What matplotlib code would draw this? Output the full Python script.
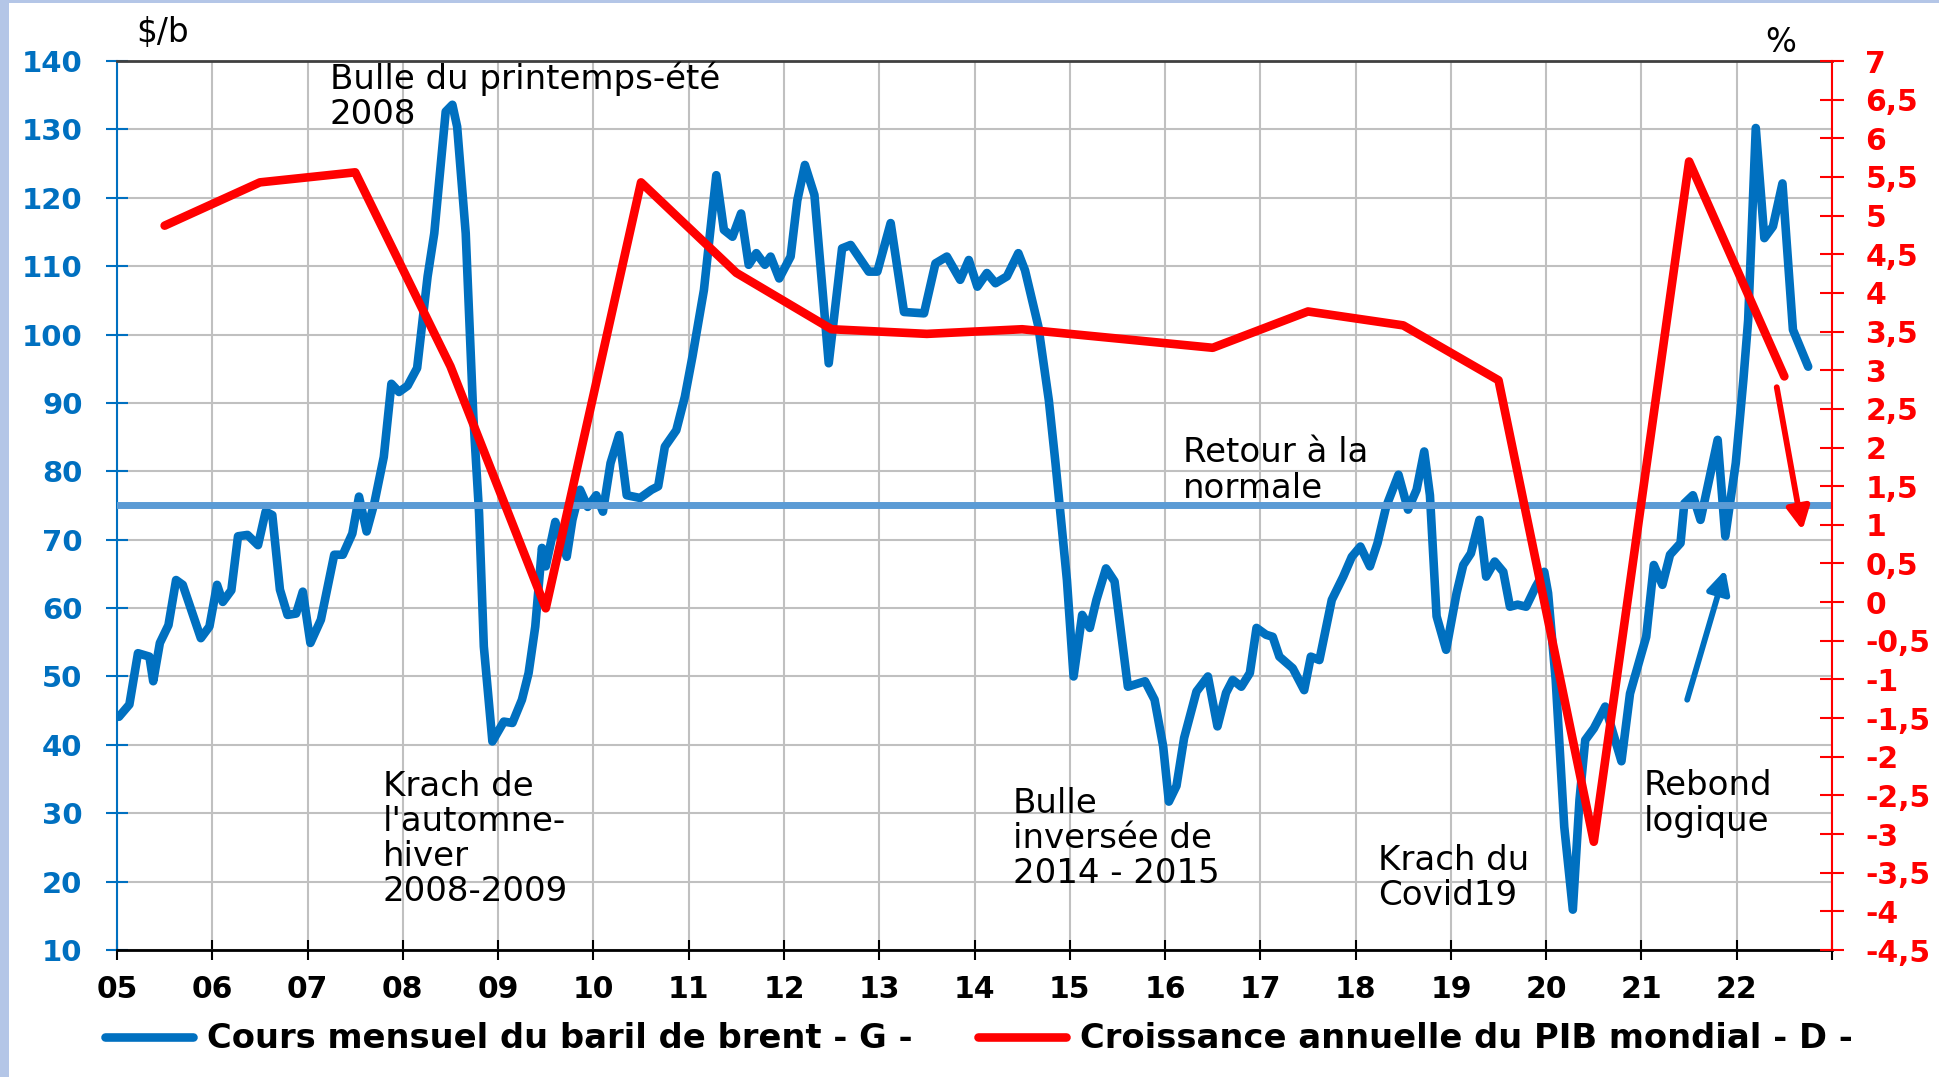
import numpy as np
import matplotlib
matplotlib.use('Agg')
import matplotlib.pyplot as plt
from matplotlib.lines import Line2D
from matplotlib.patches import Rectangle

plt.rcParams['font.family'] = ['DejaVu Sans']

# ======================================================================
# Données
# ======================================================================
# cours mensuel du baril de brent ($/b), axe gauche
brent_t = [
    2005.02, 2005.13, 2005.22, 2005.34, 2005.38, 2005.45, 2005.54, 2005.62, 2005.69, 2005.88, 2005.97,
    2006.05, 2006.11, 2006.20, 2006.27, 2006.37, 2006.48, 2006.56, 2006.63, 2006.71, 2006.79, 2006.88, 2006.95,
    2007.03, 2007.14, 2007.28, 2007.37, 2007.47, 2007.54, 2007.62, 2007.70, 2007.80, 2007.88, 2007.96,
    2008.05, 2008.15, 2008.26, 2008.33, 2008.45, 2008.52, 2008.57, 2008.66, 2008.74, 2008.80, 2008.85, 2008.94,
    2009.06, 2009.15, 2009.25, 2009.32, 2009.39, 2009.46, 2009.50, 2009.60, 2009.72, 2009.78, 2009.86, 2009.94,
    2010.03, 2010.10, 2010.18, 2010.27, 2010.35, 2010.49, 2010.61, 2010.68, 2010.75, 2010.87, 2010.96,
    2011.04, 2011.16, 2011.29, 2011.37, 2011.46, 2011.55, 2011.63, 2011.71, 2011.80, 2011.86, 2011.95,
    2012.07, 2012.14, 2012.22, 2012.32, 2012.47, 2012.61, 2012.70, 2012.89, 2012.98,
    2013.12, 2013.26, 2013.47, 2013.59, 2013.71, 2013.85, 2013.94,
    2014.03, 2014.13, 2014.22, 2014.34, 2014.46, 2014.53, 2014.67, 2014.78, 2014.85, 2014.97,
    2015.04, 2015.13, 2015.21, 2015.28, 2015.38, 2015.47, 2015.61, 2015.79, 2015.89, 2015.98,
    2016.04, 2016.12, 2016.20, 2016.33, 2016.45, 2016.55, 2016.64, 2016.71, 2016.80, 2016.89, 2016.96,
    2017.06, 2017.13, 2017.20, 2017.34, 2017.46, 2017.53, 2017.62, 2017.75, 2017.87, 2017.96,
    2018.05, 2018.15, 2018.23, 2018.32, 2018.45, 2018.55, 2018.64, 2018.72, 2018.78, 2018.85, 2018.95,
    2019.06, 2019.13, 2019.21, 2019.30, 2019.37, 2019.46, 2019.55, 2019.62, 2019.70, 2019.79, 2019.89, 2019.98,
    2020.02, 2020.10, 2020.19, 2020.28, 2020.35, 2020.41, 2020.50, 2020.62, 2020.79, 2020.88,
    2021.05, 2021.13, 2021.22, 2021.30, 2021.41, 2021.45, 2021.54, 2021.62, 2021.80, 2021.88, 2021.99,
    2022.07, 2022.12, 2022.20, 2022.29, 2022.38, 2022.48, 2022.59, 2022.75,
]
brent_v = [
    44.1, 45.9, 53.4, 52.9, 49.3, 54.9, 57.5, 64.1, 63.4, 55.6, 57.3,
    63.4, 60.9, 62.6, 70.5, 70.7, 69.2, 74.1, 73.6, 62.7, 59.0, 59.2, 62.4,
    54.9, 58.3, 67.8, 67.8, 70.9, 76.3, 71.2, 75.3, 82.1, 92.8, 91.6,
    92.5, 95.1, 108.5, 114.8, 132.6, 133.6, 130.4, 114.8, 88.0, 73.9, 54.4, 40.5,
    43.4, 43.2, 46.6, 50.5, 57.3, 68.8, 66.1, 72.6, 67.5, 72.9, 77.3, 74.8,
    76.5, 74.1, 81.2, 85.3, 76.5, 76.1, 77.3, 77.8, 83.6, 86.0, 90.9,
    96.8, 106.5, 123.3, 115.3, 114.3, 117.7, 110.2, 111.9, 110.2, 111.4, 108.2,
    111.4, 119.6, 124.8, 120.4, 95.8, 112.6, 113.1, 109.2, 109.2,
    116.3, 103.3, 103.1, 110.4, 111.4, 108.0, 110.9,
    107.0, 109.0, 107.5, 108.5, 111.9, 109.4, 101.2, 90.4, 81.2, 64.1,
    50.0, 59.0, 57.1, 61.2, 65.8, 63.9, 48.5, 49.3, 46.6, 39.8,
    31.7, 34.0, 41.0, 47.8, 50.0, 42.7, 47.6, 49.5, 48.5, 50.5, 57.1,
    56.1, 55.8, 52.9, 51.2, 48.0, 52.9, 52.4, 61.2, 64.6, 67.5,
    69.0, 66.1, 69.5, 74.8, 79.5, 74.4, 77.3, 82.9, 76.5, 58.8, 53.9,
    62.2, 66.3, 68.0, 72.9, 64.6, 66.8, 65.3, 60.2, 60.5, 60.2, 63.1, 65.3,
    62.2, 49.5, 28.0, 15.9, 32.0, 40.7, 42.4, 45.6, 37.6, 47.5,
    55.8, 66.3, 63.4, 67.8, 69.5, 75.3, 76.5, 72.9, 84.6, 70.5, 81.2,
    93.4, 102.1, 130.2, 114.1, 115.8, 122.1, 100.7, 95.3,
]

# croissance annuelle du PIB mondial (%), axe droit, point en milieu d'année
annees = [2005, 2006, 2007, 2008, 2009, 2010, 2011, 2012, 2013,
          2014, 2015, 2016, 2017, 2018, 2019, 2020, 2021, 2022]
pib_croissance = [4.87, 5.43, 5.56, 3.05, -0.08, 5.43, 4.26, 3.53, 3.47,
                  3.53, 3.41, 3.29, 3.76, 3.58, 2.87, -3.10, 5.70, 2.92]

niveau_normal = 75  # "retour à la normale"

fleche_brent = [(2021.48, 46.6), (2021.88, 65.6)]
fleche_pib = [(2022.42, 2.78), (2022.69, 0.93)]

annotations = [
    (2007.235, 139.9, "Bulle du printemps-été\n2008"),
    (2007.79, 36.3, "Krach de\nl'automne-\nhiver\n2008-2009"),
    (2014.40, 33.9, "Bulle\ninversée de\n2014 - 2015"),
    (2018.24, 25.5, "Krach du\nCovid19"),
    (2021.02, 36.4, "Rebond\nlogique"),
    (2016.19, 85.1, "Retour à la\nnormale"),
]

# ======================================================================
# Figure
# ======================================================================
BLEU = '#0070c0'
ROUGE = '#ff0000'
BLEU_CLAIR = '#5b9bd5'
GRILLE = '#c0c0c0'

W, H = 1939, 1077
fig = plt.figure(figsize=(W / 100, H / 100), dpi=100)
fig.add_artist(Rectangle((0, 0), 9 / W, 1, transform=fig.transFigure,
                         color='#b4c6e7', lw=0, zorder=0))
fig.add_artist(Rectangle((0, 1 - 3 / H), 1, 3 / H, transform=fig.transFigure,
                         color='#b4c6e7', lw=0, zorder=0))

ax = fig.add_axes([117 / W, 1 - 950 / H, (1832 - 117) / W, (950 - 61) / H])
ax2 = ax.twinx()

ax.set_xlim(2005, 2023)
ax.set_ylim(10, 140)
ax2.set_ylim(-4.5, 7)

ax.grid(True, color=GRILLE, lw=1.5)
ax.set_axisbelow(True)

ax.plot(brent_t, brent_v, color=BLEU, lw=6.2,
        solid_joinstyle='round', solid_capstyle='round', zorder=2)
ax.axhline(niveau_normal, color=BLEU_CLAIR, lw=5, zorder=3)
ax2.plot(np.array(annees) + 0.5, pib_croissance, color=ROUGE, lw=6.2,
         solid_joinstyle='round', solid_capstyle='round', zorder=2)

fleche_kw = dict(arrowstyle='-|>,head_length=0.75,head_width=0.38',
                 lw=4.2, shrinkA=0, shrinkB=0, mutation_scale=18)
ax.annotate('', xy=fleche_brent[1], xytext=fleche_brent[0],
            arrowprops=dict(color=BLEU, **fleche_kw))
ax2.annotate('', xy=fleche_pib[1], xytext=fleche_pib[0],
             arrowprops=dict(color=ROUGE, **fleche_kw))

# axes et graduations
ax.set_xticks(annees + [2023])
ax.set_xticklabels([f'{a % 100:02d}' for a in annees] + [''], fontweight='bold')
ax.set_yticks(range(10, 141, 10))
ax.set_yticklabels([str(v) for v in range(10, 141, 10)], fontweight='bold')
ax.tick_params(axis='x', direction='inout', length=15, width=1.5,
               colors='black', pad=10.5, labelsize=21.5)
ax.tick_params(axis='y', direction='inout', length=16.5, width=1.5,
               colors=BLEU, pad=16.5, labelsize=21)

ticks_d = np.arange(-4.5, 7.01, 0.5)
ax2.set_yticks(ticks_d)
ax2.set_yticklabels([('%g' % t).replace('.', ',') for t in ticks_d], fontweight='bold')
ax2.tick_params(axis='y', direction='inout', length=17, width=1.5,
                colors=ROUGE, pad=15.5, labelsize=21.5)

ax.spines['left'].set_color(BLEU)
ax.spines['left'].set_linewidth(1.5)
ax.spines['top'].set_color('#404040')
ax.spines['top'].set_linewidth(2)
ax.spines['bottom'].set_color('black')
ax.spines['bottom'].set_linewidth(2)
ax.spines['right'].set_visible(False)
for s in ['left', 'top', 'bottom']:
    ax2.spines[s].set_visible(False)
ax2.spines['right'].set_color(ROUGE)
ax2.spines['right'].set_linewidth(1.5)

# unités
ax.text(2005.2, 142.8, '$/b', fontsize=23.5, va='baseline', ha='left', clip_on=False)
ax.text(2022.30, 141.3, '%', fontsize=23.5, va='baseline', ha='left', clip_on=False)

for x, y, s in annotations:
    ax.text(x, y, s, fontsize=24.5, va='top', ha='left', linespacing=1.08,
            clip_on=False, zorder=5)

# légende
leg_kw = dict(loc='center left', frameon=False, borderpad=0, borderaxespad=0,
              handlelength=2.6, handletextpad=0.42,
              prop={'weight': 'bold', 'size': 24.3})
h1 = Line2D([], [], color=BLEU, lw=6.2, solid_capstyle='round')
h2 = Line2D([], [], color=ROUGE, lw=6.2, solid_capstyle='round')
fig.legend(handles=[h1], labels=['Cours mensuel du baril de brent - G -'],
           bbox_to_anchor=(105 / W, 1 - 1039 / H), **leg_kw)
fig.legend(handles=[h2], labels=['Croissance annuelle du PIB mondial - D -'],
           bbox_to_anchor=(978 / W, 1 - 1039 / H), **leg_kw)

fig.savefig('out.png', dpi=100)
